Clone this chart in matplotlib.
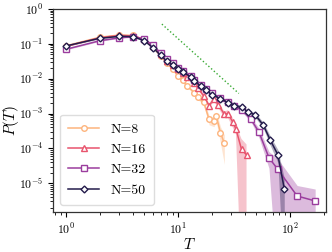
import numpy as np
import matplotlib
matplotlib.use("Agg")
import matplotlib.pyplot as plt

plt.rcParams['font.family'] = 'serif'
plt.rcParams['font.serif'] = ['cmr10']
plt.rcParams['mathtext.fontset'] = 'cm'
plt.rcParams['axes.formatter.use_mathtext'] = True

# N=8
t8 = [1, 2, 3, 4, 5, 6, 7, 8, 9, 10, 11, 12, 14, 15, 17, 19, 21, 22, 24, 26]
p8 = [0.088, 0.155, 0.18, 0.175, 0.13, 0.08, 0.045, 0.028, 0.0186, 0.012, 0.0089, 0.0063,
      0.004, 0.0029, 0.0021, 0.00068, 0.0006, 0.00085, 0.00028, 0.00014]
e8 = [0.05, 0.05, 0.05, 0.05, 0.05, 0.05, 0.05, 0.06, 0.06, 0.07, 0.08, 0.08,
      0.1, 0.12, 0.15, 0.3, 0.3, 0.3, 0.5, 0.75]

# N=16
t16 = [1, 2, 3, 4, 5, 6, 7, 8, 9, 10, 11, 12, 14, 15, 17, 19, 21, 23, 26, 28, 31, 33, 37, 41]
p16 = [0.085, 0.15, 0.175, 0.17, 0.135, 0.088, 0.052, 0.033, 0.025, 0.019, 0.0145, 0.0112,
       0.0076, 0.0056, 0.0032, 0.0017, 0.0026, 0.0018, 0.00095, 0.001, 0.00056, 0.00036,
       9.3e-5, 6.5e-5]
e16 = [0.05, 0.05, 0.05, 0.05, 0.05, 0.05, 0.05, 0.06, 0.06, 0.07, 0.08, 0.08,
       0.1, 0.1, 0.12, 0.15, 0.15, 0.2, 0.2, 0.25, 0.3, 0.3, 1.0, 1.0]

# N=32
t32 = [1, 2, 3, 4, 5, 6, 7, 8, 9, 10, 11, 13, 14, 16, 18, 20, 24, 28, 32, 37, 45, 53, 65, 78, 116, 168]
p32 = [0.070, 0.123, 0.150, 0.162, 0.138, 0.092, 0.055, 0.036, 0.028, 0.021, 0.0165, 0.012,
       0.0092, 0.0068, 0.0050, 0.0038, 0.0028, 0.0021, 0.0016, 0.0013, 0.00068, 0.00029,
       5.4e-5, 2.5e-5, 4.3e-6, 3.1e-6]
e32 = [0.04, 0.04, 0.04, 0.04, 0.04, 0.04, 0.05, 0.05, 0.05, 0.05, 0.06, 0.06,
       0.06, 0.07, 0.07, 0.08, 0.08, 0.1, 0.1, 0.12, 0.15, 0.3, 0.5, 1.0, 1.0, 1.2]

# N=50
t50 = [1, 2, 3, 4, 5, 6, 7, 8, 9, 10, 11, 13, 14, 16, 18, 20, 24, 28, 32, 37, 42, 49, 58, 67, 78, 89]
p50 = [0.087, 0.145, 0.165, 0.162, 0.123, 0.078, 0.047, 0.032, 0.025, 0.0195, 0.0155, 0.0115,
       0.0085, 0.0062, 0.0047, 0.0035, 0.0027, 0.00205, 0.0017, 0.00155, 0.00112, 0.00092,
       0.00046, 0.00017, 6.6e-5, 7.0e-6]
e50 = [0.04, 0.04, 0.04, 0.04, 0.04, 0.04, 0.05, 0.05, 0.05, 0.05, 0.05, 0.05,
       0.06, 0.06, 0.07, 0.07, 0.08, 0.08, 0.1, 0.1, 0.12, 0.15, 0.2, 0.3, 0.4, 1.0]

labels = ['N=8', 'N=16', 'N=32', 'N=50']
colors = ['#fdb47d', '#e8546d', '#9b3d9e', '#241c4c']
markers = ['o', '^', 's', 'D']

# guide line ~ T^-2.9
guide_t = [7.2, 35]
guide_exp = -2.9
guide_c = 113.5

fig = plt.figure(figsize=(3.32, 2.52), dpi=100)
ax = fig.add_axes([0.16, 0.159, 0.822, 0.805])

series = [(t8, p8, e8), (t16, p16, e16), (t32, p32, e32), (t50, p50, e50)]
for (t, p, e), lab, c, m in zip(series, labels, colors, markers):
    t = np.array(t, float)
    p = np.array(p)
    e = np.array(e)
    lo = np.clip(p * (1 - e), 1e-8, None)
    hi = p * (1 + e)
    ax.fill_between(t, lo, hi, color=c, alpha=0.35, lw=0)
    ax.plot(t, p, marker=m, color=c, label=lab, lw=1.1, ms=4 if m != 'D' else 3.5,
            mfc='white', mec=c, mew=1.0)

gt = np.array(guide_t)
ax.plot(gt, guide_c * gt ** guide_exp, ':', color='#3aaa35', lw=1.0)

ax.set_xscale('log')
ax.set_yscale('log')
ax.set_xlim(0.77, 210)
ax.set_ylim(1.5e-6, 1.0)
ax.set_xlabel(r'$T$', fontsize=11, labelpad=0)
ax.set_ylabel(r'$P(T)$', fontsize=11)
ax.yaxis.set_label_coords(-0.118, 0.45)
ax.tick_params(which='both', direction='out', labelsize=8.5, top=False, right=False)
ax.tick_params(which='major', length=3.5, width=0.8)
ax.tick_params(which='minor', length=2, width=0.6)
ax.yaxis.set_major_locator(matplotlib.ticker.LogLocator(base=10, numticks=10))
ax.yaxis.set_minor_locator(matplotlib.ticker.LogLocator(base=10, subs=np.arange(2, 10), numticks=20))
for s in ax.spines.values():
    s.set_color('#333333')
    s.set_linewidth(0.9)

ax.legend(loc='lower left', fontsize=10, handlelength=2.2, borderpad=0.6,
          labelspacing=0.55, framealpha=1, edgecolor='#dddddd', fancybox=True)

fig.savefig('out.png', dpi=100)
